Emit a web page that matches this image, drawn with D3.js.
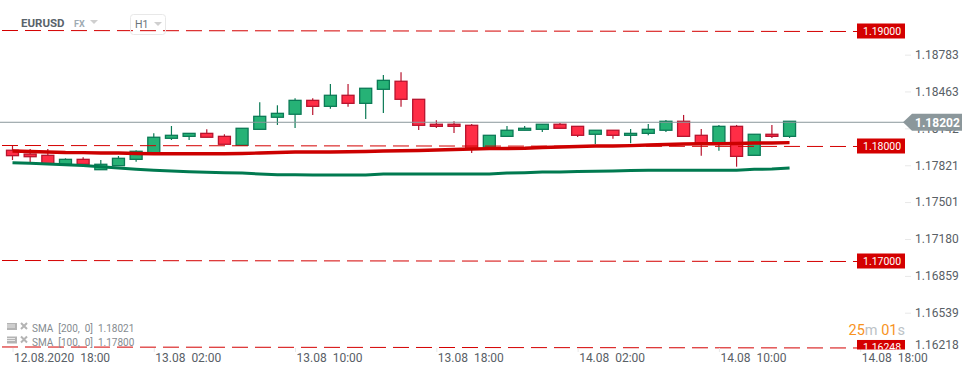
<!DOCTYPE html>
<html>
<head>
<meta charset="utf-8">
<script src="https://cdn.jsdelivr.net/npm/d3@7"></script>
<style>
  html, body { margin: 0; padding: 0; background: #fff; }
  svg { display: block; font-family: Roboto, sans-serif; }
  text { white-space: pre; }
</style>
</head>
<body>
<div id="chart"></div>
<script>
const opens = [1.17963, 1.1793, 1.17919, 1.17841, 1.17884, 1.17794, 1.17829, 1.17884, 1.17942, 1.18067, 1.18084, 1.1811, 1.18084, 1.18006, 1.18145, 1.1825, 1.18276, 1.18397, 1.18345, 1.18441, 1.18371, 1.18493, 1.18563, 1.18406, 1.18189, 1.18189, 1.1818, 1.17989, 1.18084, 1.18137, 1.18145, 1.18189, 1.18171, 1.18102, 1.18137, 1.18093, 1.1811, 1.18137, 1.18215, 1.18093, 1.18023, 1.18171, 1.17919, 1.18102, 1.18084];
const highs = [1.18003, 1.17974, 1.17974, 1.17893, 1.17902, 1.17878, 1.17913, 1.17963, 1.1811, 1.18174, 1.1811, 1.18145, 1.18102, 1.18154, 1.1838, 1.18354, 1.18415, 1.18415, 1.18539, 1.18539, 1.18502, 1.18617, 1.18641, 1.18406, 1.18223, 1.18215, 1.18191, 1.18093, 1.18174, 1.18174, 1.18189, 1.182, 1.18171, 1.18137, 1.18137, 1.18148, 1.18191, 1.18226, 1.1827, 1.18148, 1.18183, 1.18183, 1.18102, 1.18183, 1.18217];
const lows = [1.17878, 1.17855, 1.17846, 1.17841, 1.17841, 1.17794, 1.17829, 1.17863, 1.17942, 1.18052, 1.18052, 1.18076, 1.18015, 1.18006, 1.18145, 1.18183, 1.18157, 1.1827, 1.18324, 1.18342, 1.18235, 1.18287, 1.18342, 1.18139, 1.18157, 1.18113, 1.17939, 1.17989, 1.18084, 1.18137, 1.18122, 1.18154, 1.18078, 1.18017, 1.18063, 1.18023, 1.18093, 1.18122, 1.18084, 1.17916, 1.17959, 1.1782, 1.17919, 1.1807, 1.1807];
const closes = [1.17916, 1.17907, 1.17846, 1.17884, 1.17841, 1.17841, 1.17893, 1.17954, 1.18076, 1.18093, 1.1811, 1.18076, 1.18015, 1.18154, 1.18258, 1.18284, 1.18397, 1.18345, 1.18441, 1.18371, 1.18502, 1.18571, 1.18406, 1.1818, 1.18171, 1.18171, 1.1798, 1.18093, 1.18137, 1.18154, 1.18189, 1.18154, 1.18093, 1.18137, 1.18093, 1.1811, 1.18145, 1.18215, 1.18084, 1.18023, 1.18171, 1.1791, 1.18102, 1.18084, 1.18215];

const smaRed = [1.17957, 1.17952, 1.17948, 1.17943, 1.17942, 1.17939, 1.17939, 1.17935, 1.17933, 1.17933, 1.17933, 1.17933, 1.17933, 1.17935, 1.17939, 1.17943, 1.17948, 1.17948, 1.17948, 1.1795, 1.17952, 1.17957, 1.17959, 1.17961, 1.17965, 1.1797, 1.17974, 1.17977, 1.17978, 1.1798, 1.17987, 1.17991, 1.17996, 1.18, 1.18, 1.18003, 1.18009, 1.18013, 1.18017, 1.18019, 1.1802, 1.18022, 1.18026, 1.18026, 1.18029];
const smaGreen = [1.17855, 1.1785, 1.17843, 1.17837, 1.1783, 1.1782, 1.17809, 1.17798, 1.17789, 1.17783, 1.17777, 1.17771, 1.17768, 1.17765, 1.17757, 1.1775, 1.1775, 1.17748, 1.17748, 1.17748, 1.17748, 1.17757, 1.17757, 1.17757, 1.17757, 1.17757, 1.17757, 1.17757, 1.17765, 1.17768, 1.17774, 1.17774, 1.17778, 1.1778, 1.17783, 1.17787, 1.17789, 1.17789, 1.17789, 1.17789, 1.17789, 1.17789, 1.17797, 1.178, 1.17809];

const levels = [1.19, 1.18, 1.17, 1.16248];
const lastPrice = 1.18202;
const priceTicks = [1.18783, 1.18463, 1.18142, 1.17821, 1.17501, 1.1718, 1.16859, 1.16539, 1.16218];
const startTime = new Date(2020, 7, 12, 18);
const timeTicks = [0, 8, 16, 24, 32, 40, 48].map(h => d3.timeHour.offset(startTime, h));
const legendRows = ["SMA  [200,  0]  1.18021", "SMA  [100,  0]  1.17800"];

const width = 974;
const height = 375;

const x = d3.scaleTime()
  .domain([startTime, timeTicks[6]])
  .range([12.5, 860.2]);
const y = d3.scaleLinear()
  .domain([1.19, 1.17])
  .range([31, 261]);

const svg = d3.select("#chart").append("svg")
  .attr("width", width)
  .attr("height", height);

svg.append("clipPath").attr("id", "plot-clip")
  .append("rect")
  .attr("x", 0).attr("y", 0)
  .attr("width", width).attr("height", 349.5);

const candles = opens.map((o, i) => ({
  t: d3.timeHour.offset(startTime, i),
  o, h: highs[i], l: lows[i], c: closes[i]
}));
const isUp = d => d.c >= d.o;

// candles
const candle = svg.append("g").selectAll("g")
  .data(candles)
  .enter()
  .append("g")
  .attr("transform", d => `translate(${x(d.t)}, 0)`);

candle.append("line")
  .attr("y1", d => y(d.h))
  .attr("y2", d => y(d.l))
  .attr("stroke", d => isUp(d) ? "#0c7a56" : "#b8142e")
  .attr("stroke-width", 1.2);

candle.append("rect")
  .attr("x", -6)
  .attr("width", 12)
  .attr("y", d => y(Math.max(d.o, d.c)))
  .attr("height", d => Math.abs(y(d.o) - y(d.c)))
  .attr("fill", d => isUp(d) ? "#26b276" : "#ff2d46")
  .attr("stroke", d => isUp(d) ? "#0c7a56" : "#b8142e")
  .attr("stroke-width", 1.3);

// moving averages
const smaLine = d3.line()
  .x((d, i) => x(candles[i].t))
  .y(d => y(d));

svg.append("path").datum(smaRed)
  .attr("d", smaLine)
  .attr("fill", "none")
  .attr("stroke", "#cc0000")
  .attr("stroke-width", 3.4);

svg.append("path").datum(smaGreen)
  .attr("d", smaLine)
  .attr("fill", "none")
  .attr("stroke", "#007a50")
  .attr("stroke-width", 3);

// horizontal levels, they lean by one pixel in the original
svg.append("g").selectAll("line")
  .data(levels)
  .enter()
  .append("line")
  .attr("x1", 2)
  .attr("x2", 857)
  .attr("y1", d => y(d) - 0.5)
  .attr("y2", d => y(d) + 0.5)
  .attr("stroke", "#d40000")
  .attr("stroke-dasharray", "16 7");

// price line
svg.append("line")
  .attr("x1", 0)
  .attr("x2", 905)
  .attr("y1", y(lastPrice) - 0.5)
  .attr("y2", y(lastPrice) - 0.5)
  .attr("stroke", "#8b979b");

// price axis
const yAxis = svg.append("g")
  .attr("transform", "translate(905, -1.3)")
  .call(d3.axisRight(y).tickValues(priceTicks).tickFormat(d3.format(".5f")).tickSize(6).tickPadding(4));
yAxis.select(".domain").remove();
yAxis.selectAll(".tick line").attr("stroke", "#e8e8e8");
yAxis.selectAll(".tick text")
  .attr("fill", "#596066")
  .attr("font-size", 12)
  .attr("font-family", "Roboto, sans-serif");
yAxis.selectAll(".tick").filter(d => d === 1.16218).select("line").remove();
yAxis.selectAll(".tick").filter(d => d === 1.16218).select("text").attr("y", -5);

// time axis
const xAxis = svg.append("g")
  .attr("transform", "translate(0, 348)")
  .call(d3.axisBottom(x).tickValues(timeTicks).tickSize(4).tickPadding(1)
    .tickFormat((d, i) => d3.timeFormat(i === 0 ? "%d.%m.%Y  %H:%M" : "%d.%m  %H:%M")(d)));
xAxis.select(".domain").remove();
xAxis.selectAll(".tick line").attr("stroke", "#e8e8e8");
xAxis.selectAll(".tick text")
  .attr("text-anchor", "start")
  .attr("x", 1)
  .attr("fill", "#596066")
  .attr("font-size", 12)
  .attr("font-family", "Roboto, sans-serif");

// level tags
const tags = svg.append("g").attr("clip-path", "url(#plot-clip)")
  .selectAll("g")
  .data(levels)
  .enter()
  .append("g")
  .attr("transform", d => `translate(857, ${y(d)})`);
tags.append("rect")
  .attr("y", -7.5)
  .attr("width", 48)
  .attr("height", 15)
  .attr("fill", "#d40000");
tags.append("text")
  .attr("x", 6)
  .attr("y", 3.5)
  .attr("fill", "#fff")
  .attr("font-size", 10.5)
  .text(d => d.toFixed(5));

// last price tag
const priceTag = svg.append("g")
  .attr("transform", `translate(903, ${y(lastPrice) - 0.5})`);
priceTag.append("path")
  .attr("d", "M0,0L9,-8.5H59V8.5H9Z")
  .attr("fill", "#8b979b");
priceTag.append("text")
  .attr("x", 12)
  .attr("y", 4.5)
  .attr("fill", "#fff")
  .attr("font-size", 12)
  .attr("font-weight", 700)
  .text(lastPrice.toFixed(5));

// symbol header
svg.append("text").attr("x", 21).attr("y", 27)
  .attr("fill", "#59636b").attr("font-size", 11.5).attr("font-weight", 700)
  .text("EURUSD");
svg.append("text").attr("x", 74).attr("y", 27)
  .attr("fill", "#9eabb3").attr("font-size", 9).attr("font-weight", 700)
  .text("FX");
svg.append("path").attr("d", "M90,20H98L94,24Z").attr("fill", "#cfcfcf");
svg.append("rect")
  .attr("x", 130.5).attr("y", 14.5).attr("width", 35).attr("height", 20).attr("rx", 3)
  .attr("fill", "none").attr("stroke", "#e8e8e8");
svg.append("text").attr("x", 135).attr("y", 27.5)
  .attr("fill", "#69737a").attr("font-size", 10.5)
  .text("H1");
svg.append("path").attr("d", "M154,22H162L158,26Z").attr("fill", "#cfcfcf");

// indicator legend
const legend = svg.append("g").selectAll("g")
  .data(legendRows)
  .enter()
  .append("g")
  .attr("transform", (d, i) => `translate(0, ${328 + i * 13.5})`);
legend.append("rect")
  .attr("x", 7).attr("y", -5).attr("width", 10).attr("height", 7)
  .attr("fill", "#b4b4b4");
legend.append("path")
  .attr("d", "M7,-3H15M7,-1H15")
  .attr("stroke", "#fff").attr("stroke-width", 0.7);
legend.append("path")
  .attr("d", "M21,-5L27,1M27,-5L21,1")
  .attr("stroke", "#b4b4b4").attr("stroke-width", 2);
legend.append("text")
  .attr("x", 32).attr("y", 4)
  .attr("fill", "#858b90").attr("font-size", 10)
  .text(d => d);

// countdown
const timer = svg.append("text")
  .attr("x", 848.5).attr("y", 335)
  .attr("font-size", 14.5);
timer.append("tspan").attr("fill", "#f7931e").text("25");
timer.append("tspan").attr("fill", "#bcc2c6").text("m ");
timer.append("tspan").attr("fill", "#f7931e").text("01");
timer.append("tspan").attr("fill", "#bcc2c6").text("s");
</script>
</body>
</html>
